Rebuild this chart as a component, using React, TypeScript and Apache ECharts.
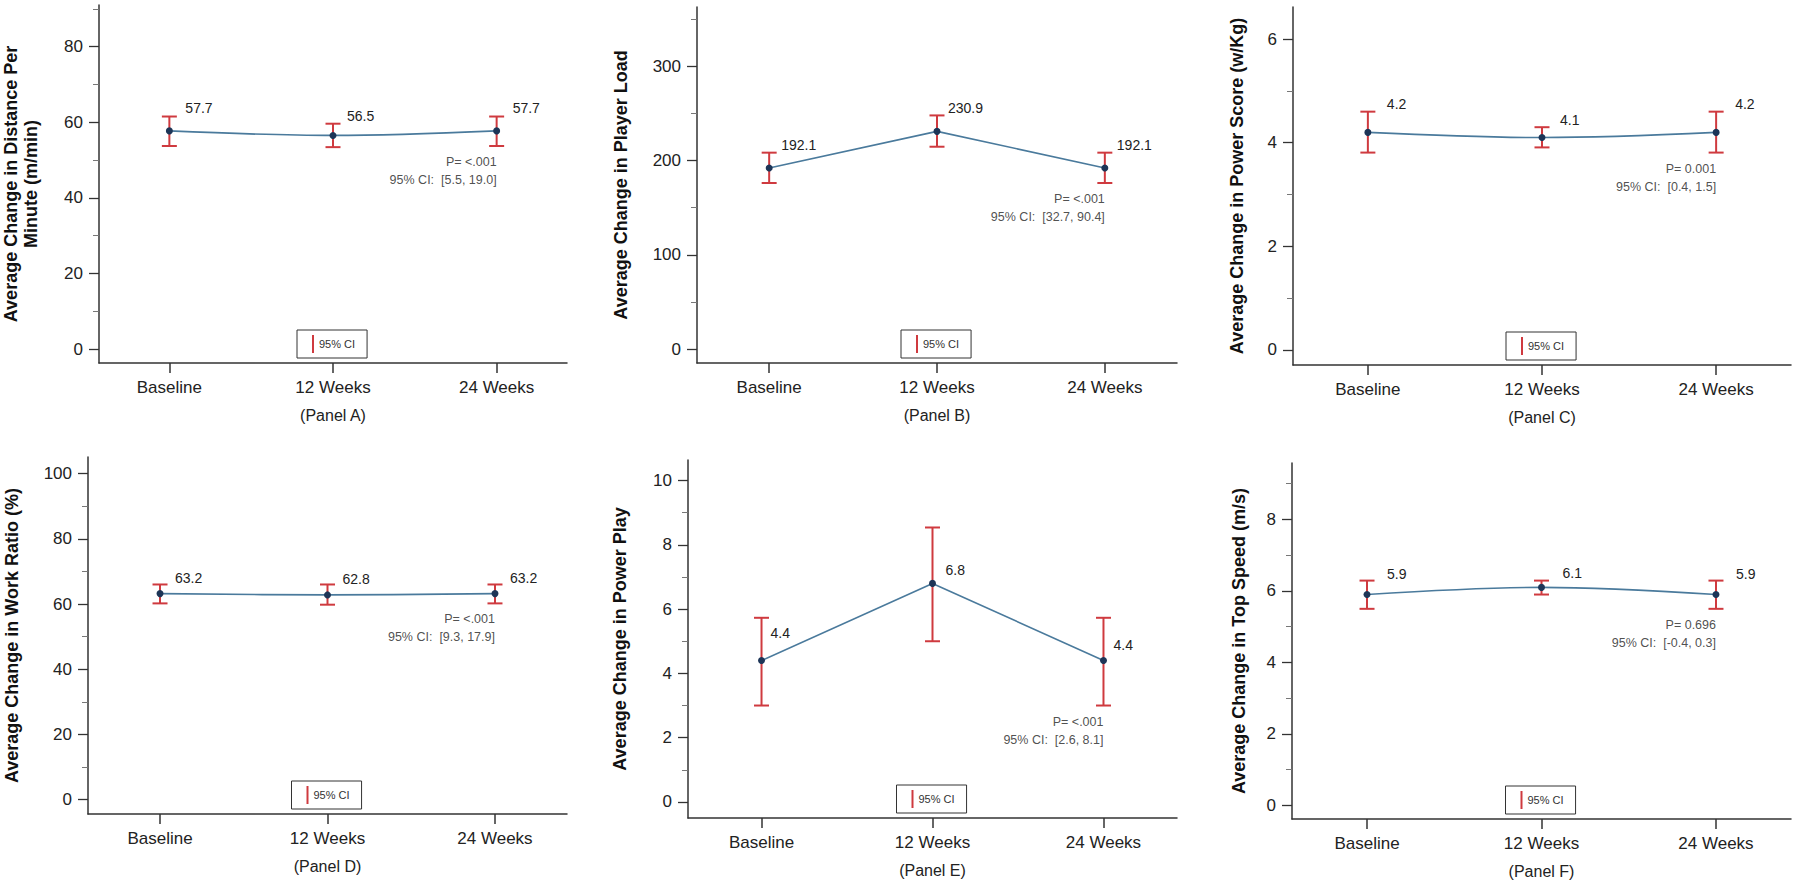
import React, { useEffect, useRef } from 'react';
import * as echarts from 'echarts';

// ---------- data ----------
const categories = ['Baseline', '12 Weeks', '24 Weeks'];

const meanA = [57.7, 56.5, 57.7];
const lowA = [53.7, 53.4, 53.7];
const highA = [61.5, 59.6, 61.5];

const meanB = [192.1, 230.9, 192.1];
const lowB = [176.1, 214.6, 176.1];
const highB = [208.3, 247.8, 208.3];

const meanC = [4.2, 4.1, 4.2];
const lowC = [3.81, 3.91, 3.81];
const highC = [4.6, 4.3, 4.6];

const meanD = [63.2, 62.8, 63.2];
const lowD = [60.2, 59.8, 60.2];
const highD = [66.0, 66.0, 66.0];

const meanE = [4.4, 6.8, 4.4];
const lowE = [3.0, 5.0, 3.0];
const highE = [5.73, 8.54, 5.73];

const meanF = [5.9, 6.1, 5.9];
const lowF = [5.5, 5.9, 5.5];
const highF = [6.29, 6.29, 6.29];

const ticksA = [0, 20, 40, 60, 80];
const minorA = [10, 30, 50, 70, 90];
const ticksB = [0, 100, 200, 300];
const minorB = [50, 150, 250, 350];
const ticksC = [0, 2, 4, 6];
const minorC = [1, 3, 5];
const ticksD = [0, 20, 40, 60, 80, 100];
const minorD = [10, 30, 50, 70, 90];
const ticksE = [0, 2, 4, 6, 8, 10];
const minorE = [1, 3, 5, 7, 9];
const ticksF = [0, 2, 4, 6, 8];
const minorF = [1, 3, 5, 7, 9];

const pValues = ['<.001', '<.001', '0.001', '<.001', '<.001', '0.696'];
const ciTexts = ['[5.5, 19.0]', '[32.7, 90.4]', '[0.4, 1.5]', '[9.3, 17.9]', '[2.6, 8.1]', '[-0.4, 0.3]'];
const panelNames = ['(Panel A)', '(Panel B)', '(Panel C)', '(Panel D)', '(Panel E)', '(Panel F)'];
const yTitles = [
  'Average Change in Distance Per\nMinute (m/min)',
  'Average Change in Player Load',
  'Average Change in Power Score (w/Kg)',
  'Average Change in Work Ratio (%)',
  'Average Change in Power Play',
  'Average Change in Top Speed (m/s)',
];

// ---------- layout / style ----------
const RED = '#cf3a3f';
const LINE = '#4a7a9c';
const DOT = '#1d3557';
const AXIS = '#333333';
const TEXT = '#222222';
const FONT = "'Liberation Sans', Arial, sans-serif";
const X_MIN = -0.43;
const X_MAX = 2.43;

const panels = [
  { mean: meanA, low: lowA, high: highA, ticks: ticksA, minor: minorA, yMin: -3.7, yMax: 91,
    grid: { left: 99, top: 5, width: 468, height: 358 }, smooth: true, nameGap: 58,
    lab: [[16, -23], [14, -19], [16, -23]] },
  { mean: meanB, low: lowB, high: highB, ticks: ticksB, minor: minorB, yMin: -14.8, yMax: 362.8,
    grid: { left: 697, top: 7, width: 480, height: 356 }, smooth: false, nameGap: 66,
    lab: [[12, -23], [11, -23], [12, -23]] },
  { mean: meanC, low: lowC, high: highC, ticks: ticksC, minor: minorC, yMin: -0.29, yMax: 6.62,
    grid: { left: 1293, top: 7, width: 498, height: 358 }, smooth: true, nameGap: 46,
    lab: [[19, -28], [18, -18], [19, -28]] },
  { mean: meanD, low: lowD, high: highD, ticks: ticksD, minor: minorD, yMin: -4.4, yMax: 105.1,
    grid: { left: 88, top: 457, width: 479, height: 357 }, smooth: true, nameGap: 66,
    lab: [[15, -16], [15, -16], [15, -16]] },
  { mean: meanE, low: lowE, high: highE, ticks: ticksE, minor: minorE, yMin: -0.5, yMax: 10.64,
    grid: { left: 688, top: 460, width: 489, height: 358 }, smooth: false, nameGap: 58,
    lab: [[9, -28], [13, -13], [10, -16]] },
  { mean: meanF, low: lowF, high: highF, ticks: ticksF, minor: minorF, yMin: -0.38, yMax: 9.58,
    grid: { left: 1292, top: 463, width: 499, height: 356 }, smooth: true, nameGap: 43,
    lab: [[20, -21], [21, -14], [20, -21]] },
];

function buildOption() {
  const grid: any[] = [];
  const xAxis: any[] = [];
  const yAxis: any[] = [];
  const series: any[] = [];
  const legend: any[] = [];

  panels.forEach((p, i) => {
    grid.push({ ...p.grid, containLabel: false });

    xAxis.push({
      type: 'value', gridIndex: i, min: X_MIN, max: X_MAX, position: 'bottom',
      axisLine: { show: true, onZero: false, lineStyle: { color: AXIS, width: 1.5 } },
      axisTick: { show: true, customValues: [0, 1, 2], length: 10, lineStyle: { color: AXIS, width: 1.5 } },
      axisLabel: { customValues: [0, 1, 2], formatter: (v: number) => categories[Math.round(v)] ?? '',
        fontSize: 17, color: TEXT, margin: 16, fontFamily: FONT },
      splitLine: { show: false },
      name: panelNames[i], nameLocation: 'middle', nameGap: 44,
      nameTextStyle: { fontSize: 16, color: TEXT, fontFamily: FONT },
    });

    yAxis.push({
      type: 'value', gridIndex: i, min: p.yMin, max: p.yMax, position: 'left',
      axisLine: { show: true, onZero: false, lineStyle: { color: AXIS, width: 1.5 } },
      axisTick: { show: true, customValues: p.ticks, length: 10, lineStyle: { color: AXIS, width: 1.3 } },
      axisLabel: { customValues: p.ticks, fontSize: 17, color: TEXT, margin: 16, fontFamily: FONT },
      splitLine: { show: false },
      name: yTitles[i], nameLocation: 'middle', nameRotate: 90, nameGap: p.nameGap,
      nameTextStyle: { fontSize: 18, fontWeight: 'bold', color: '#111', lineHeight: 20, fontFamily: FONT },
    });
    yAxis.push({
      type: 'value', gridIndex: i, min: p.yMin, max: p.yMax, position: 'left', offset: 0,
      axisLine: { show: false, onZero: false },
      axisTick: { show: true, customValues: p.minor, length: 6, lineStyle: { color: '#777', width: 1 } },
      axisLabel: { show: false },
      splitLine: { show: false },
    });

    series.push({
      type: 'custom', name: '95% CI', xAxisIndex: i, yAxisIndex: 2 * i,
      itemStyle: { color: RED }, silent: true, z: 2,
      encode: { x: 0, y: [1, 2] },
      data: categories.map((_, j) => [j, p.low[j], p.high[j]]),
      renderItem: (_params: any, api: any) => {
        const x = api.value(0);
        const lo = api.coord([x, api.value(1)]);
        const hi = api.coord([x, api.value(2)]);
        const hw = 7.5;
        const style = { stroke: RED, lineWidth: 2 };
        return {
          type: 'group',
          children: [
            { type: 'line', shape: { x1: lo[0], y1: lo[1], x2: hi[0], y2: hi[1] }, style },
            { type: 'line', shape: { x1: lo[0] - hw, y1: lo[1], x2: lo[0] + hw, y2: lo[1] }, style },
            { type: 'line', shape: { x1: hi[0] - hw, y1: hi[1], x2: hi[0] + hw, y2: hi[1] }, style },
          ],
        };
      },
    });

    series.push({
      type: 'line', name: 'mean' + i, xAxisIndex: i, yAxisIndex: 2 * i,
      smooth: p.smooth ? 0.35 : false, symbol: 'circle', symbolSize: 7, z: 3,
      itemStyle: { color: DOT },
      lineStyle: { color: LINE, width: 1.6 },
      label: {
        show: true, position: 'right', distance: 0, fontSize: 14, color: TEXT, fontFamily: FONT,
        formatter: (d: any) => d.value[1].toFixed(1),
      },
      data: p.mean.map((m, j) => ({ value: [j, m], label: { offset: [p.lab[j][0] - 3.5, p.lab[j][1]] } })),
    });

    series.push({
      type: 'scatter', name: 'note' + i, xAxisIndex: i, yAxisIndex: 2 * i,
      symbolSize: 0, silent: true,
      label: {
        show: true, position: 'bottom', distance: 7, align: 'right',
        fontSize: 12.5, lineHeight: 18, color: '#222', fontFamily: FONT,
        formatter: `P= ${pValues[i]}\n95% CI:  ${ciTexts[i]}`,
      },
      data: [[2, p.low[2]]],
    });

    const cx = p.grid.left + (p.grid.width * (1 - X_MIN)) / (X_MAX - X_MIN);
    legend.push({
      data: [{ name: '95% CI', icon: 'rect', itemStyle: { color: RED } }],
      left: cx - 36, top: p.grid.top + p.grid.height - 33,
      orient: 'horizontal', padding: [5, 12, 5, 15], itemWidth: 2, itemHeight: 18,
      borderColor: AXIS, borderWidth: 1, selectedMode: false,
      textStyle: { fontSize: 11, color: '#333', fontFamily: FONT },
    });
  });

  return {
    animation: false,
    backgroundColor: '#ffffff',
    textStyle: { fontFamily: FONT },
    grid, xAxis, yAxis, series, legend,
  };
}

export default function App() {
  const ref = useRef<HTMLDivElement>(null);
  useEffect(() => {
    if (!ref.current) return;
    const chart = echarts.init(ref.current, null, { renderer: 'svg' });
    chart.setOption(buildOption() as any);
    return () => chart.dispose();
  }, []);
  return (
    <div
      ref={ref}
      style={{ position: 'fixed', left: 0, top: 0, width: 1800, height: 883, background: '#fff' }}
    />
  );
}
